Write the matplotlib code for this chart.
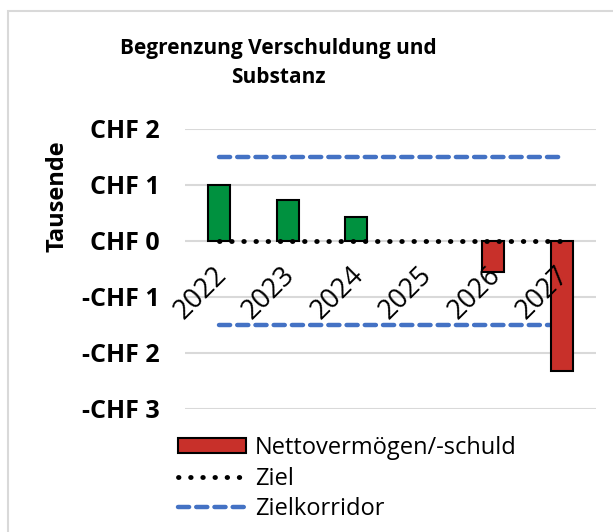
import matplotlib.pyplot as plt
from matplotlib.patches import Rectangle, Patch
from matplotlib.lines import Line2D
import numpy as np

plt.rcParams['font.family'] = ['Open Sans', 'DejaVu Sans']

years = ['2022', '2023', '2024', '2025', '2026', '2027']
netto = [1.0, 0.73, 0.42, 0.0, -0.56, -2.32]
ziel = [0, 0, 0, 0, 0, 0]
korridor_oben = [1.5, 1.5, 1.5, 1.5, 1.5, 1.5]
korridor_unten = [-1.5, -1.5, -1.5, -1.5, -1.5, -1.5]

green = '#00913F'
red = '#C8302A'
blue = '#4472C4'

fig = plt.figure(figsize=(6.13, 5.32), dpi=100)
# chart border (only left and top edges fall inside the picture)
fig.patches.append(Rectangle((8/613, -0.1), 1.2, 1.1 - 11/532, transform=fig.transFigure,
                             fill=False, edgecolor='#D9D9D9', linewidth=1.5))
ax = fig.add_axes([185/613, 1 - 409/532, 411/613, 280/532])

x = np.arange(len(years))
colors = [green if v >= 0 else red for v in netto]
lws = [1.5 if v != 0 else 0 for v in netto]
ax.bar(x, netto, width=0.32, color=colors, edgecolor='black', linewidth=lws, zorder=3)
ax.plot(x, ziel, color='black', linestyle=(0, (0.1, 2.4)), linewidth=3.5,
        dash_capstyle='round', zorder=4)
ax.plot(x, korridor_oben, color=blue, linestyle=(0, (2.5, 1.6)), linewidth=3.2,
        dash_capstyle='round', zorder=2)
ax.plot(x, korridor_unten, color=blue, linestyle=(0, (2.5, 1.6)), linewidth=3.2,
        dash_capstyle='round', zorder=2)

ax.set_xlim(-0.5, 5.5)
ax.set_ylim(-3, 2)
ax.set_yticks([2, 1, 0, -1, -2, -3])
ax.set_yticklabels(['CHF 2', 'CHF 1', 'CHF 0', '-CHF 1', '-CHF 2', '-CHF 3'],
                   fontsize=18, fontweight='bold')
ax.grid(axis='y', color='#D9D9D9', linewidth=1.5, zorder=0)
ax.set_axisbelow(True)
for s in ax.spines.values():
    s.set_visible(False)
ax.tick_params(axis='y', length=0, pad=18)

ax.set_xticks([])
for xi, lab in zip(x, years):
    ax.text(xi - 0.1, -0.36, lab, rotation=45, ha='right', va='top',
            rotation_mode='anchor', fontsize=19.5, zorder=5)

fig.text(57/613, 1 - 196/532, 'Tausende', rotation=90, ha='center', va='center',
         fontsize=17, fontweight='bold')

fig.text(278/613, 1 - 63/532, 'Begrenzung Verschuldung und\nSubstanz', ha='center', va='center',
         fontsize=15, fontweight='bold', linespacing=1.55)

handles = [Patch(facecolor=red, edgecolor='black', linewidth=1.5),
           Line2D([], [], color='black', linestyle=(0, (0.1, 2.4)), linewidth=3.5,
                  dash_capstyle='round'),
           Line2D([], [], color=blue, linestyle=(0, (2.5, 1.6)), linewidth=3.2,
                  dash_capstyle='round')]
fig.legend(handles, ['Nettovermögen/-schuld', 'Ziel', 'Zielkorridor'],
           loc='upper left', bbox_to_anchor=(178/613, 1 - 436/532), frameon=False,
           fontsize=17, handlelength=2.9, handleheight=0.6, labelspacing=0.28,
           handletextpad=0.35, borderpad=0, borderaxespad=0)

fig.savefig('out.png', dpi=100)
